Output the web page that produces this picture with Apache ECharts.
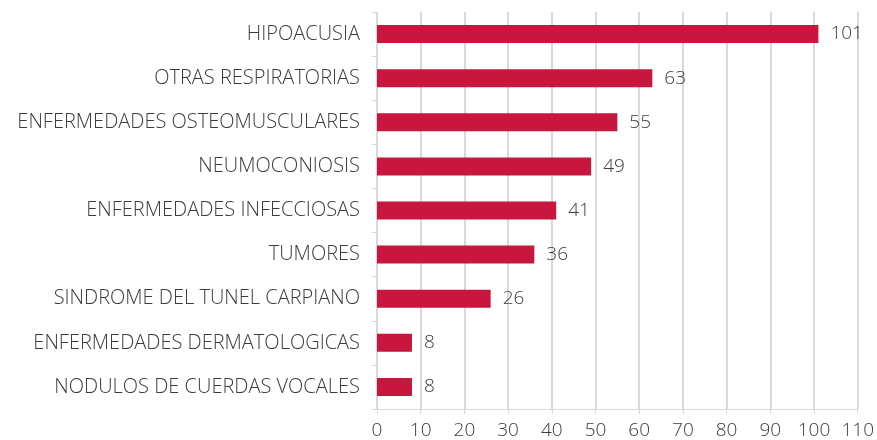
<!DOCTYPE html>
<html>
<head>
<meta charset="utf-8">
<script src="https://cdn.jsdelivr.net/npm/echarts@6/dist/echarts.min.js"></script>
<style>
  html, body { margin: 0; padding: 0; background: #fff; }
  #chart { width: 877px; height: 440px; }
</style>
</head>
<body>
<div id="chart"></div>
<script>
var categories = [
  'HIPOACUSIA',
  'OTRAS RESPIRATORIAS',
  'ENFERMEDADES OSTEOMUSCULARES',
  'NEUMOCONIOSIS',
  'ENFERMEDADES INFECCIOSAS',
  'TUMORES',
  'SINDROME DEL TUNEL CARPIANO',
  'ENFERMEDADES DERMATOLOGICAS',
  'NODULOS DE CUERDAS VOCALES'
];
var casos = [101, 63, 55, 49, 41, 36, 26, 8, 8];
var xMin = 0, xMax = 110, xStep = 10;

var fontFam = 'Open Sans';
var textColor = '#3c3c3c';
var lineColor = '#d9d9d9';

var chart = echarts.init(document.getElementById('chart'));
chart.setOption({
  animation: false,
  grid: { left: 377, right: 15, top: 12, bottom: 26, containLabel: false },
  xAxis: {
    type: 'value',
    min: xMin, max: xMax, interval: xStep,
    axisLine: { show: true, lineStyle: { color: lineColor, width: 1 } },
    axisTick: { show: true, length: 5, lineStyle: { color: lineColor } },
    splitLine: { show: true, lineStyle: { color: lineColor, width: 2 } },
    axisLabel: { color: textColor, fontFamily: fontFam, fontWeight: 300, fontSize: 19, margin: 12 }
  },
  yAxis: {
    type: 'category',
    inverse: true,
    data: categories,
    axisLine: { show: true, lineStyle: { color: lineColor, width: 1 } },
    axisTick: { show: true, length: 5, lineStyle: { color: lineColor } },
    axisLabel: { color: textColor, fontFamily: fontFam, fontWeight: 300, fontSize: 20, margin: 17 }
  },
  series: [{
    type: 'bar',
    data: casos,
    barWidth: 18,
    itemStyle: { color: '#C8163E' },
    label: {
      show: true, position: 'right', distance: 12,
      color: textColor, fontFamily: fontFam, fontWeight: 300, fontSize: 19
    }
  }]
});
</script>
</body>
</html>
